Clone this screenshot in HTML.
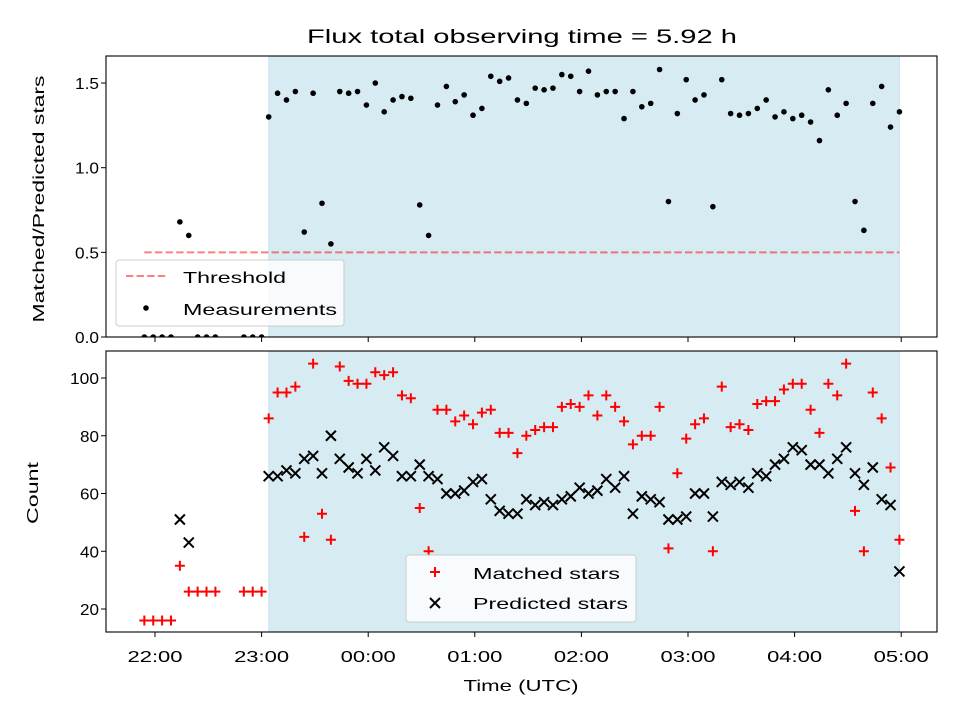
<!DOCTYPE html>
<html><head><meta charset="utf-8"><style>body{margin:0;background:#fff}svg{font-family:"Liberation Sans","DejaVu Sans",sans-serif}</style></head>
<body>
<svg id="c" width="960" height="720" viewBox="0 0 960 720" xmlns="http://www.w3.org/2000/svg"></svg>
<script>
const times=[-6,-1,4,9,14,19,24,29,34,50,55,60,
64,69,74,79,84,89,94,99,104,109,114,119,124,129,134,139,144,149,154,159,164,169,174,179,184,189,194,199,204,209,214,219,224,229,234,239,244,249,254,259,264,269,274,279,284,289,294,299,304,309,314,319,324,329,334,339,344,349,354,359,364,369,374,379,384,389,394,399,404,409,414,419];
const ratio=[0,0,0,0,0.68,0.60,0,0,0,0,0,0,
1.30,1.44,1.40,1.45,0.62,1.44,0.79,0.55,1.45,1.44,1.45,1.37,1.50,1.33,1.40,1.42,1.41,0.78,0.60,1.37,1.48,1.39,1.43,1.31,1.35,1.54,1.51,1.53,1.40,1.38,1.47,1.46,1.47,1.55,1.54,1.45,1.57,1.43,1.45,1.45,1.29,1.45,1.36,1.38,1.58,0.80,1.32,1.52,1.40,1.43,0.77,1.52,1.32,1.31,1.32,1.35,1.40,1.30,1.33,1.29,1.31,1.27,1.16,1.46,1.31,1.38,0.80,0.63,1.38,1.48,1.24,1.33];
const matched=[16,16,16,16,35,26,26,26,26,26,26,26,
86,95,95,97,45,105,53,44,104,99,98,98,102,101,102,94,93,55,40,89,89,85,87,84,88,89,81,81,74,80,82,83,83,90,91,90,94,87,94,90,85,77,80,80,90,41,67,79,84,86,40,97,83,84,82,91,92,92,96,98,98,89,81,98,94,105,54,40,95,86,69,44];
const predicted=[null,null,null,null,51,43,null,null,null,null,null,null,
66,66,68,67,72,73,67,80,72,69,67,72,68,76,73,66,66,70,66,65,60,60,61,64,65,58,54,53,53,58,56,57,56,58,59,62,60,61,65,62,66,53,59,58,57,51,51,52,60,60,52,64,63,64,62,67,66,70,72,76,75,70,70,67,72,76,67,63,69,58,56,33];
const ratioTicks=[0,0.5,1.0,1.5];
const ratioTickLabels=["0.0","0.5","1.0","1.5"];
const countTicks=[20,40,60,80,100];
const xTicks=[0,60,120,180,240,300,360,420];
const xTickLabels=["22:00","23:00","00:00","01:00","02:00","03:00","04:00","05:00"];
const threshold=0.5, shadeStart=64, shadeEnd=419, thrStart=-6, thrEnd=419;

const NS="http://www.w3.org/2000/svg", svg=document.getElementById('c');
function el(t,a,p){const e=document.createElementNS(NS,t);for(const k in a)e.setAttribute(k,a[k]);(p||svg).appendChild(e);return e;}
const X0=106,X1=937;
const x=m=>155+m*(106.6/60);
const yT=v=>337-v*169.3;
const yB=v=>609-(v-20)*2.8875;
function txt(s,a,p,len){const e=el('text',a,p);e.textContent=s;if(len){e.setAttribute('textLength',len);e.setAttribute('lengthAdjust','spacingAndGlyphs');}return e;}

const t=txt("Flux total observing time = 5.92 h",{x:522,y:43,'font-size':19,'text-anchor':'middle',fill:'#000'},svg,430);


function panel(top,bot,name){
  const g=el('g',{});
  const cp=el('clipPath',{id:name+'-clip'},g);el('rect',{x:X0,y:top,width:X1-X0,height:bot-top},cp);
  const sh=el('rect',{x:x(shadeStart),y:top,width:x(shadeEnd)-x(shadeStart),height:bot-top,fill:'#add8e6','fill-opacity':0.5,stroke:'#add8e6','stroke-opacity':0.5},g);
  
  return g;
}
function frame(g,top,bot){el('rect',{x:X0,y:top,width:X1-X0,height:bot-top,fill:'none',stroke:'#000','stroke-width':1.1},g);}

const gT=panel(56,337,'ratio-panel');
const pl=el('g',{'clip-path':'url(#ratio-panel-clip)'},gT);
const th=el('line',{x1:x(thrStart),x2:x(thrEnd),y1:yT(threshold),y2:yT(threshold),stroke:'#ff0000','stroke-opacity':0.5,'stroke-width':2,'stroke-dasharray':'7.4,3.2'},pl);

times.forEach((m,i)=>{const c=el('circle',{cx:x(m),cy:yT(ratio[i]),r:2.8,fill:'#000'},pl);
  });
frame(gT,56,337);
ratioTicks.forEach((v,i)=>{el('line',{x1:X0-5,x2:X0,y1:yT(v),y2:yT(v),stroke:'#000'},gT);
  txt(ratioTickLabels[i],{x:X0-7,y:yT(v)+6,'font-size':16,'text-anchor':'end'},gT,24);});
xTicks.forEach(m=>el('line',{x1:x(m),x2:x(m),y1:337,y2:342,stroke:'#000'},gT));
const yl1=txt("Matched/Predicted stars",{x:0,y:0,'font-size':16,'text-anchor':'middle',transform:'translate(44,199) rotate(-90)'},gT,247);

const lg=el('g',{},gT);
el('rect',{x:116,y:260,width:228,height:66,rx:3,fill:'#fff','fill-opacity':0.8,stroke:'#ccc'},lg);
el('line',{x1:126,x2:166,y1:276,y2:276,stroke:'#ff0000','stroke-opacity':0.5,'stroke-width':2,'stroke-dasharray':'7.4,3.2'},lg);
txt("Threshold",{x:183,y:283,'font-size':16},lg,103);
el('circle',{cx:146,cy:308,r:2.8,fill:'#000'},lg);
txt("Measurements",{x:183,y:315,'font-size':16},lg,154);

const gB=panel(351,632,'count-panel');
const bl=el('g',{'clip-path':'url(#count-panel-clip)'},gB);
times.forEach((m,i)=>{const cx=x(m),cy=yB(matched[i]);
  const p=el('path',{d:`M${cx-5},${cy}H${cx+5}M${cx},${cy-5}V${cy+5}`,stroke:'#ff0000','stroke-width':2,fill:'none'},bl);
  
  if(predicted[i]!==null){const py=yB(predicted[i]);
   const q=el('path',{d:`M${cx-5},${py-5}L${cx+5},${py+5}M${cx-5},${py+5}L${cx+5},${py-5}`,stroke:'#000','stroke-width':2,fill:'none'},bl);
   }
});
frame(gB,351,632);
countTicks.forEach(v=>{el('line',{x1:X0-5,x2:X0,y1:yB(v),y2:yB(v),stroke:'#000'},gB);
  txt(String(v),{x:X0-7,y:yB(v)+6,'font-size':16,'text-anchor':'end'},gB,v>=100?29:19);});
xTicks.forEach((m,i)=>{el('line',{x1:x(m),x2:x(m),y1:632,y2:637,stroke:'#000'},gB);
  txt(xTickLabels[i],{x:x(m),y:662,'font-size':16,'text-anchor':'middle'},gB,55);});
const xl=txt("Time (UTC)",{x:521,y:691,'font-size':16,'text-anchor':'middle'},gB,115);

const yl2=txt("Count",{x:0,y:0,'font-size':16,'text-anchor':'middle',transform:'translate(38,493) rotate(-90)'},gB,62);

const lb=el('g',{},gB);
el('rect',{x:406,y:555,width:230,height:67,rx:3,fill:'#fff','fill-opacity':0.8,stroke:'#ccc'},lb);
el('path',{d:'M430,572H440M435,567V577',stroke:'#ff0000','stroke-width':2},lb);
txt("Matched stars",{x:473,y:579,'font-size':16},lb,147);
el('path',{d:'M430,598L440,608M430,608L440,598',stroke:'#000','stroke-width':2},lb);
txt("Predicted stars",{x:473,y:609,'font-size':16},lb,155);
</script>
</body></html>
